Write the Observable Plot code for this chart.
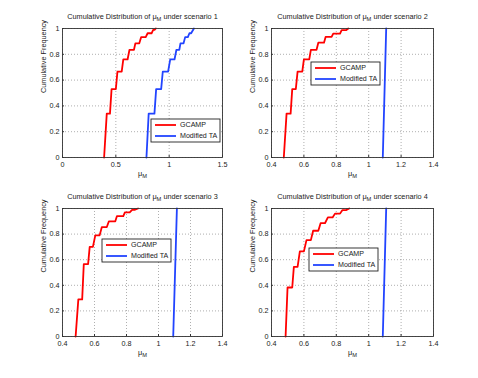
<!DOCTYPE html>
<html>
<head>
<meta charset="utf-8">
<script src="https://cdn.jsdelivr.net/npm/d3@7"></script>
<script src="https://cdn.jsdelivr.net/npm/@observablehq/plot@0.6"></script>
<style>
  html, body { margin: 0; padding: 0; background: #fff; }
  #root { position: relative; width: 478px; height: 378px; overflow: hidden; background: #fff; }
  .panel { position: absolute; width: 239px; height: 189px; }
  .legend { position: absolute; }
</style>
</head>
<body>
<div id="root"></div>
<script>
// ---------- data ----------
const titles = [
  "Cumulative Distribution of μ_M under scenario 1",
  "Cumulative Distribution of μ_M under scenario 2",
  "Cumulative Distribution of μ_M under scenario 3",
  "Cumulative Distribution of μ_M under scenario 4"
];
const seriesNames = ["GCAMP", "Modified TA"];
const xLabel = "μ_M";
const yLabel = "Cumulative Frequency";
const yTicks = [0, 0.2, 0.4, 0.6, 0.8, 1];
const xTicksS1 = [0, 0.5, 1, 1.5];
const xTicksS234 = [0.4, 0.6, 0.8, 1, 1.2, 1.4];

// scenario 1
const s1GcampX = [0.39, 0.415, 0.445, 0.46, 0.50, 0.515, 0.555, 0.57, 0.61, 0.628, 0.67, 0.683, 0.72, 0.737, 0.78, 0.798, 0.835, 0.85, 0.865, 0.875];
const s1GcampY = [0, 0.34, 0.34, 0.53, 0.53, 0.665, 0.665, 0.76, 0.76, 0.835, 0.835, 0.885, 0.885, 0.933, 0.933, 0.963, 0.963, 0.99, 0.99, 1];
const s1TaX = [0.787, 0.808, 0.862, 0.878, 0.925, 0.94, 0.99, 1.01, 1.05, 1.068, 1.095, 1.106, 1.135, 1.15, 1.175, 1.19, 1.206, 1.232];
const s1TaY = [0, 0.34, 0.34, 0.53, 0.53, 0.665, 0.665, 0.76, 0.76, 0.835, 0.835, 0.885, 0.885, 0.933, 0.933, 0.963, 0.963, 1];
// scenario 2
const s2GcampX = [0.476, 0.493, 0.518, 0.528, 0.55, 0.561, 0.59, 0.6, 0.633, 0.643, 0.678, 0.689, 0.724, 0.734, 0.771, 0.781, 0.823, 0.833, 0.86, 0.874];
const s2GcampY = [0, 0.34, 0.34, 0.53, 0.53, 0.665, 0.665, 0.76, 0.76, 0.835, 0.835, 0.89, 0.89, 0.935, 0.935, 0.96, 0.96, 0.987, 0.987, 1];
const s2TaX = [1.087, 1.108];
const s2TaY = [0, 1];
// scenario 3
const s3GcampX = [0.482, 0.499, 0.523, 0.533, 0.56, 0.57, 0.59, 0.605, 0.632, 0.646, 0.677, 0.69, 0.73, 0.74, 0.78, 0.79, 0.82, 0.835, 0.85, 0.872];
const s3GcampY = [0, 0.29, 0.29, 0.565, 0.565, 0.70, 0.70, 0.79, 0.79, 0.855, 0.855, 0.90, 0.90, 0.94, 0.94, 0.97, 0.97, 0.99, 0.99, 1];
const s3TaX = [1.092, 1.115];
const s3TaY = [0, 1];
// scenario 4
const s4GcampX = [0.487, 0.499, 0.528, 0.538, 0.561, 0.575, 0.6, 0.616, 0.643, 0.657, 0.689, 0.703, 0.73, 0.748, 0.777, 0.792, 0.823, 0.837, 0.86, 0.88];
const s4GcampY = [0, 0.383, 0.383, 0.544, 0.544, 0.665, 0.665, 0.753, 0.753, 0.826, 0.826, 0.885, 0.885, 0.93, 0.93, 0.96, 0.96, 0.987, 0.987, 1];
const s4TaX = [1.087, 1.108];
const s4TaY = [0, 1];

// ---------- styling / layout ----------
const FONT = "'Liberation Sans', Arial, Helvetica, sans-serif";
const COLORS = ["#ff0000", "#2244ff"];
const panels = [
  {left: 0,   top: 0,   mL: 62, mR: 17, mT: 28, mB: 32, xTicks: xTicksS1,   gx: s1GcampX, gy: s1GcampY, tx: s1TaX, ty: s1TaY, leg: [151, 119]},
  {left: 239, top: 0,   mL: 32, mR: 45, mT: 28, mB: 32, xTicks: xTicksS234, gx: s2GcampX, gy: s2GcampY, tx: s2TaX, ty: s2TaY, leg: [311, 62]},
  {left: 0,   top: 189, mL: 62, mR: 17, mT: 19, mB: 42, xTicks: xTicksS234, gx: s3GcampX, gy: s3GcampY, tx: s3TaX, ty: s3TaY, leg: [102, 239]},
  {left: 239, top: 189, mL: 32, mR: 45, mT: 19, mB: 42, xTicks: xTicksS234, gx: s4GcampX, gy: s4GcampY, tx: s4TaX, ty: s4TaY, leg: [309, 248]}
];

function subscriptify(svg) {
  svg.querySelectorAll("text").forEach(el => {
    const s = el.textContent;
    const i = s.indexOf("μ_M");
    if (i < 0) return;
    el.textContent = "";
    const sel = d3.select(el);
    sel.append("tspan").text(s.slice(0, i + 1));
    sel.append("tspan").attr("dy", "2").attr("font-size", "0.78em").text("M");
    const rest = s.slice(i + 3);
    if (rest.length) sel.append("tspan").attr("dy", "-2").text(rest);
  });
}

const root = document.getElementById("root");
const fmt = d => String(d);

panels.forEach((p, k) => {
  const gcamp = p.gx.map((x, i) => ({x, y: p.gy[i]}));
  const ta = p.tx.map((x, i) => ({x, y: p.ty[i]}));
  const xt = p.xTicks;
  const svg = Plot.plot({
    width: 239, height: 189,
    marginLeft: p.mL, marginRight: p.mR, marginTop: p.mT, marginBottom: p.mB,
    style: {fontFamily: FONT, fontSize: "7.2px", background: "transparent", color: "#222", overflow: "visible"},
    x: {domain: [xt[0], xt[xt.length - 1]]},
    y: {domain: [0, 1]},
    marks: [
      Plot.gridX(xt, {stroke: "#9a9a9a", strokeOpacity: 1, strokeDasharray: "1,2", strokeWidth: 0.8}),
      Plot.gridY(yTicks, {stroke: "#9a9a9a", strokeOpacity: 1, strokeDasharray: "1,2", strokeWidth: 0.8}),
      Plot.line(gcamp, {x: "x", y: "y", stroke: COLORS[0], strokeWidth: 1.8}),
      Plot.line(ta, {x: "x", y: "y", stroke: COLORS[1], strokeWidth: 1.8}),
      Plot.frame({stroke: "#333", strokeWidth: 0.9}),
      Plot.axisX(xt, {tickSize: -2, tickPadding: 6.5, tickFormat: fmt, label: null, stroke: "#333"}),
      Plot.axisY(yTicks, {tickSize: -2, tickPadding: 5, tickFormat: fmt, label: null, stroke: "#333"}),
      Plot.text([titles[k]], {text: d => d, frameAnchor: "top", dy: -11.5, lineAnchor: "middle", fontSize: 7.3, fill: "#222"}),
      Plot.text([xLabel], {text: d => d, frameAnchor: "bottom", dy: 16, lineAnchor: "middle", fontSize: 7.3, fill: "#222"}),
      Plot.text([yLabel], {text: d => d, frameAnchor: "left", dx: -19, rotate: -90, lineAnchor: "middle", fontSize: 7.3, fill: "#222"})
    ]
  });
  subscriptify(svg);
  const div = document.createElement("div");
  div.className = "panel";
  div.style.left = p.left + "px";
  div.style.top = p.top + "px";
  div.appendChild(svg);
  root.appendChild(div);

  // legend box
  const W = 69, H = 23;
  const leg = d3.create("svg").attr("class", "legend").attr("width", W + 2).attr("height", H + 2)
    .style("left", (p.leg[0] - 1) + "px").style("top", (p.leg[1] - 1) + "px");
  leg.append("rect").attr("x", 1).attr("y", 1).attr("width", W).attr("height", H)
    .attr("fill", "#fff").attr("stroke", "#222").attr("stroke-width", 0.9);
  seriesNames.forEach((name, j) => {
    const cy = 1 + 6 + j * 11;
    leg.append("line").attr("x1", 1 + 4).attr("x2", 1 + 25).attr("y1", cy).attr("y2", cy)
      .attr("stroke", COLORS[j]).attr("stroke-width", 1.8);
    leg.append("text").attr("x", 1 + 29).attr("y", cy).attr("dy", "0.35em")
      .attr("font-family", FONT).attr("font-size", 7.1).attr("fill", "#222").text(name);
  });
  root.appendChild(leg.node());
});
</script>
</body>
</html>
